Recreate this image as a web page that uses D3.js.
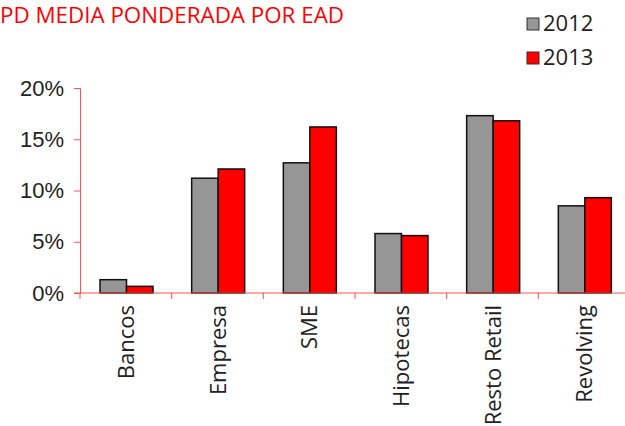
<!DOCTYPE html>
<html>
<head>
<meta charset="UTF-8">
<title>PD media ponderada por EAD</title>
<style>
  body { margin: 0; background: #ffffff; }
  svg { display: block; font-family: "Open Sans", "Noto Sans", sans-serif; }
</style>
</head>
<body>
<svg></svg>
<script src="https://d3js.org/d3.v7.min.js"></script>
<script>

// data
let categories = ["Bancos", "Empresa", "SME", "Hipotecas", "Resto Retail", "Revolving"];
let seriesNames = ["2012", "2013"];
let values2012 = [0.013, 0.112, 0.127, 0.058, 0.173, 0.085];
let values2013 = [0.0065, 0.121, 0.162, 0.056, 0.168, 0.093];
let yTicks = [0, 0.05, 0.10, 0.15, 0.20];
let colors = ["#969696", "#ff0000"];

let width = 625, height = 426;
let svg = d3.select("svg").attr("width", width).attr("height", height);

let x0 = d3.scaleBand().domain(categories).range([80, 630]).paddingInner(0).paddingOuter(0);
let x1 = d3.scaleBand().domain(seriesNames).range([20, 73]);
let y = d3.scaleLinear().domain([0, 0.20]).range([293, 88]);

// title
svg.append("text")
    .attr("x", 0).attr("y", 23)
    .attr("fill", "#ff0000")
    .style("font-size", "22px")
    .attr("textLength", 344).attr("lengthAdjust", "spacingAndGlyphs")
    .text("PD MEDIA PONDERADA POR EAD");

// bars
let rows = categories.map((c, i) => ({cat: c, vals: [values2012[i], values2013[i]]}));
let g = svg.append("g")
  .selectAll("g")
  .data(rows)
  .enter().append("g")
    .attr("transform", d => "translate(" + x0(d.cat) + ",0)");

g.selectAll("rect")
  .data(d => d.vals.map((v, k) => ({key: seriesNames[k], v: v, k: k})))
  .enter().append("rect")
    .attr("x", d => x1(d.key))
    .attr("width", x1.bandwidth())
    .attr("y", d => y(d.v))
    .attr("height", d => y(0) - y(d.v))
    .attr("fill", d => colors[d.k])
    .attr("stroke", "#111")
    .attr("stroke-width", 1.5);

// y axis
let yAxis = d3.axisLeft(y).tickValues(yTicks).tickFormat(d3.format(".0%")).tickSize(6).tickPadding(10);
let ya = svg.append("g").attr("transform", "translate(80,0)").call(yAxis);
ya.select(".domain").attr("stroke", "#ff5050");
ya.selectAll(".tick line").attr("stroke", "#ff5050");
ya.selectAll(".tick text").attr("fill", "#222").style("font-size", "22px");

// x axis
let xa = svg.append("g").attr("transform", "translate(0,293)");
xa.append("line").attr("x1", 74).attr("x2", 630).attr("stroke", "#ff5050");
xa.selectAll(".tk")
  .data(categories.concat(["_end"]))
  .enter().append("line")
    .attr("x1", (d, i) => i < categories.length ? x0(d) : x0.range()[1])
    .attr("x2", (d, i) => i < categories.length ? x0(d) : x0.range()[1])
    .attr("y1", 0).attr("y2", 6)
    .attr("stroke", "#ff5050");
xa.selectAll(".lbl")
  .data(categories)
  .enter().append("text")
    .attr("transform", d => "translate(" + (x0(d) + x0.bandwidth() / 2 + 8) + ",12) rotate(-90)")
    .attr("text-anchor", "end")
    .attr("fill", "#222")
    .style("font-size", "22px")
    .text(d => d);

// legend
let leg = svg.append("g").selectAll("g")
  .data(seriesNames)
  .enter().append("g")
    .attr("transform", (d, i) => "translate(527," + (18 + i * 34) + ")");
leg.append("rect").attr("width", 12).attr("height", 12)
    .attr("fill", (d, i) => colors[i]).attr("stroke", "#333").attr("stroke-width", 1);
leg.append("text").attr("x", 16).attr("y", 13)
    .attr("fill", "#222").style("font-size", "22px").text(d => d);

</script>
</body>
</html>
